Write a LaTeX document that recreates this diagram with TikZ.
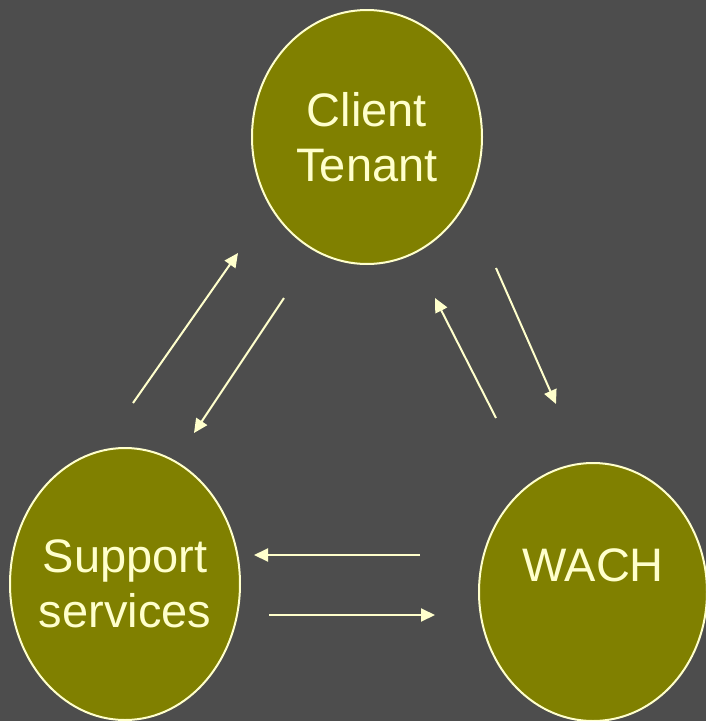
\documentclass[tikz,border=0pt]{standalone}
\usepackage{fontspec}
\setmainfont{Liberation Sans}
\usetikzlibrary{shapes.geometric}
\usetikzlibrary{arrows.meta}

\definecolor{slidegray}{HTML}{4D4D4D}
\definecolor{oliveblob}{HTML}{808000}
\definecolor{cream}{HTML}{FFFFCC}

\begin{document}
\begin{tikzpicture}[x=1pt,y=-1pt]
\tikzstyle{blob}=[ellipse,fill=oliveblob,draw=cream,line width=2pt,inner sep=0pt]
\tikzstyle{blobtext}=[text=cream,align=center,font=\fontsize{47}{55}\selectfont]
\tikzstyle{flow}=[draw=cream,line width=2pt,-{Triangle[length=14pt,width=13pt]}]
\fill[slidegray] (0,0) rectangle (706,721);
\useasboundingbox (0,0) rectangle (706,721);
% the three parties
\node[blob,minimum width=230pt,minimum height=254pt,label={[blobtext]center:Client\\Tenant}] (client) at (367,137) {};
\node[blob,minimum width=230pt,minimum height=272pt,label={[blobtext]center:Support\\services}] (support) at (125,584) {};
\node[blob,minimum width=228pt,minimum height=258pt,label={[blobtext,yshift=27pt]center:WACH}] (wach) at (593,592) {};
% arrow ends
\coordinate (sc0) at (133,403); \coordinate (sc1) at (238,253);
\coordinate (cs0) at (284,298); \coordinate (cs1) at (194,433);
\coordinate (wc0) at (496,418); \coordinate (wc1) at (435,298);
\coordinate (cw0) at (496,268); \coordinate (cw1) at (556,404);
\coordinate (ws0) at (420,555); \coordinate (ws1) at (254,555);
\coordinate (sw0) at (269,615); \coordinate (sw1) at (435,615);
\foreach \a in {sc,cs,wc,cw,ws,sw}
\draw[flow] (\a0) -- (\a1);
\end{tikzpicture}
\end{document}
